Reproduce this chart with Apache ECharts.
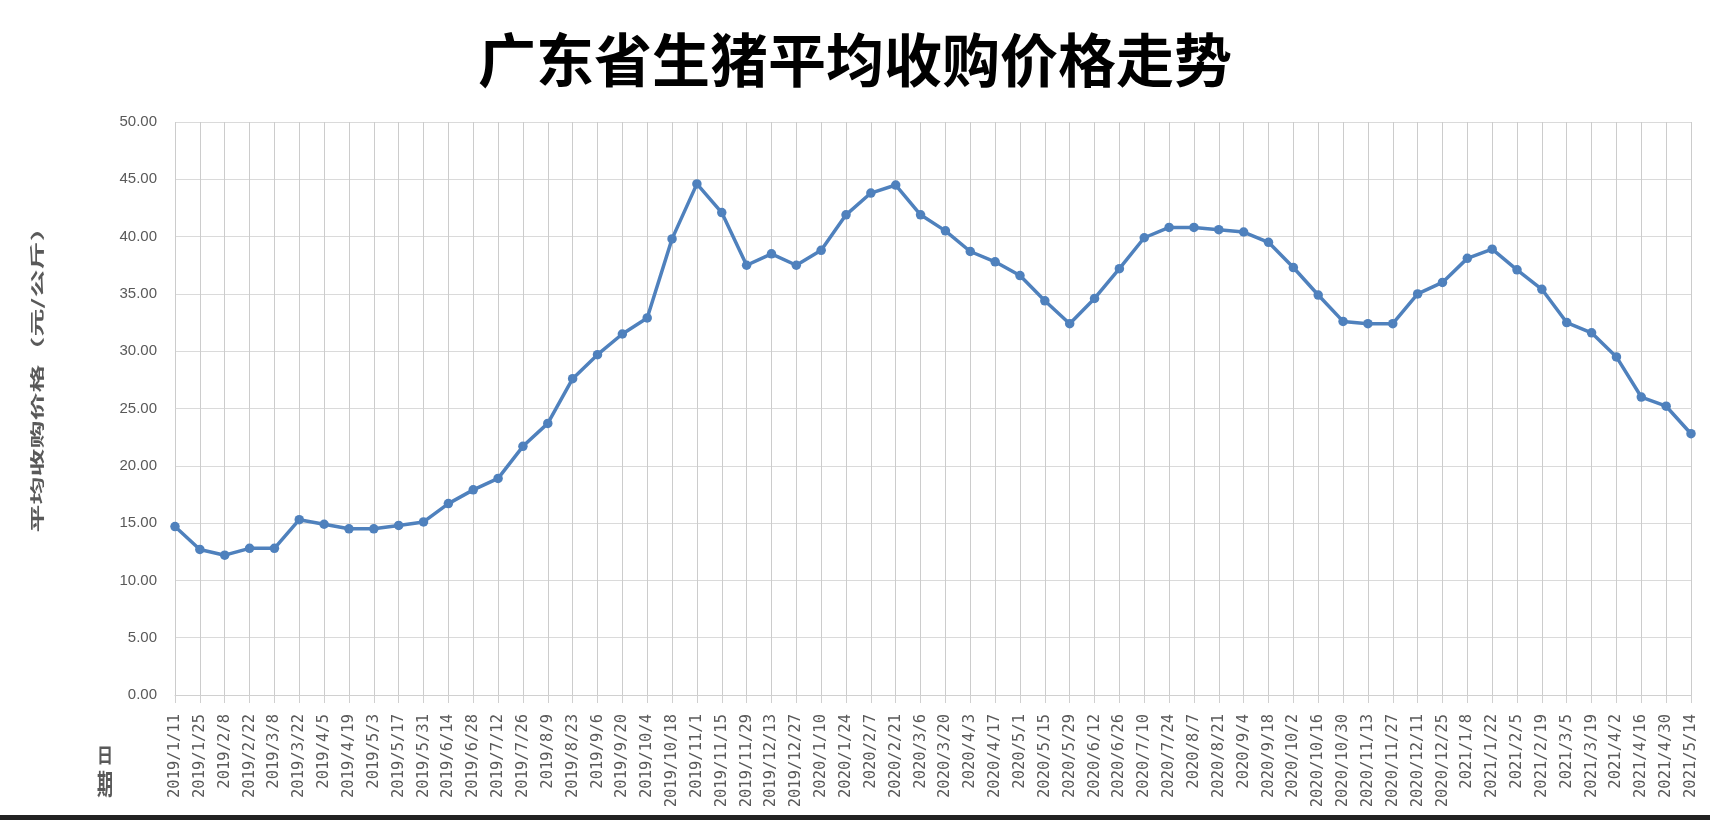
<!DOCTYPE html>
<html>
<head>
<meta charset="utf-8">
<script src="https://cdn.jsdelivr.net/npm/echarts@6/dist/echarts.min.js"></script>
<style>
html,body{margin:0;padding:0;background:#fff;}
#chart{width:1710px;height:820px;}
</style>
</head>
<body>
<div id="chart"></div>
<script>
const titleText = '广东省生猪平均收购价格走势';
const yAxisName = '平均收购价格（元/公斤）';
const xAxisName = ['日', '期'];

const dates = [
  '2019/1/11','2019/1/25','2019/2/8','2019/2/22','2019/3/8','2019/3/22','2019/4/5','2019/4/19',
  '2019/5/3','2019/5/17','2019/5/31','2019/6/14','2019/6/28','2019/7/12','2019/7/26','2019/8/9',
  '2019/8/23','2019/9/6','2019/9/20','2019/10/4','2019/10/18','2019/11/1','2019/11/15','2019/11/29',
  '2019/12/13','2019/12/27','2020/1/10','2020/1/24','2020/2/7','2020/2/21','2020/3/6','2020/3/20',
  '2020/4/3','2020/4/17','2020/5/1','2020/5/15','2020/5/29','2020/6/12','2020/6/26','2020/7/10',
  '2020/7/24','2020/8/7','2020/8/21','2020/9/4','2020/9/18','2020/10/2','2020/10/16','2020/10/30',
  '2020/11/13','2020/11/27','2020/12/11','2020/12/25','2021/1/8','2021/1/22','2021/2/5','2021/2/19',
  '2021/3/5','2021/3/19','2021/4/2','2021/4/16','2021/4/30','2021/5/14'
];

const prices = [
  14.7, 12.7, 12.2, 12.8, 12.8, 15.3, 14.9, 14.5,
  14.5, 14.8, 15.1, 16.7, 17.9, 18.9, 21.7, 23.7,
  27.6, 29.7, 31.5, 32.9, 39.8, 44.6, 42.1, 37.5,
  38.5, 37.5, 38.8, 41.9, 43.8, 44.5, 41.9, 40.5,
  38.7, 37.8, 36.6, 34.4, 32.4, 34.6, 37.2, 39.9,
  40.8, 40.8, 40.6, 40.4, 39.5, 37.3, 34.9, 32.6,
  32.4, 32.4, 35.0, 36.0, 38.1, 38.9, 37.1, 35.4,
  32.5, 31.6, 29.5, 26.0, 25.2, 22.8
];

const yMin = 0, yMax = 50, yStep = 5;

const chart = echarts.init(document.getElementById('chart'), null, {renderer: 'canvas'});
const labelGray = '#595959';

chart.setOption({
  backgroundColor: '#ffffff',
  animation: false,
  title: {
    text: titleText,
    left: 'center',
    top: 26,
    textStyle: {
      fontFamily: '"Noto Sans CJK SC"',
      fontSize: 58,
      fontWeight: 'bold',
      color: '#000000'
    }
  },
  grid: {left: 175, right: 19, top: 122, bottom: 125, containLabel: false},
  xAxis: {
    type: 'category',
    data: dates,
    boundaryGap: false,
    axisLine: {show: true, lineStyle: {color: '#d0d0d0', width: 1}},
    axisTick: {show: true, length: 8, interval: 0, lineStyle: {color: '#d0d0d0'}},
    splitLine: {show: true, interval: 0, lineStyle: {color: '#cccccc', width: 1}},
    axisLabel: {
      interval: 0,
      rotate: 90,
      margin: 19,
      color: labelGray,
      fontFamily: '"DejaVu Sans Mono"',
      fontSize: 15.5
    }
  },
  yAxis: {
    type: 'value',
    min: yMin,
    max: yMax,
    interval: yStep,
    axisLine: {show: false},
    axisTick: {show: false},
    splitLine: {show: true, lineStyle: {color: '#dadada', width: 1}},
    axisLabel: {
      margin: 18,
      color: labelGray,
      fontFamily: '"Liberation Sans"',
      fontSize: 15,
      formatter: v => v.toFixed(2)
    }
  },
  series: [{
    type: 'line',
    data: prices,
    symbol: 'circle',
    symbolSize: 9.5,
    showSymbol: true,
    lineStyle: {color: '#4F81BD', width: 3.5},
    itemStyle: {color: '#4F81BD'}
  }],
  graphic: [
    {
      type: 'text',
      x: 37, y: 373,
      rotation: Math.PI / 2,
      scaleX: 2.0,
      style: {
        text: yAxisName,
        font: 'bold 14px "Noto Sans CJK SC"',
        fill: labelGray,
        align: 'center',
        verticalAlign: 'middle'
      }
    },
    {
      type: 'text',
      x: 105, y: 755,
      scaleY: 1.3,
      style: {
        text: xAxisName[0],
        font: 'bold 16px "Noto Sans CJK SC"',
        fill: labelGray,
        align: 'center',
        verticalAlign: 'middle'
      }
    },
    {
      type: 'text',
      x: 105, y: 784,
      scaleY: 1.8,
      style: {
        text: xAxisName[1],
        font: 'bold 16px "Noto Sans CJK SC"',
        fill: labelGray,
        align: 'center',
        verticalAlign: 'middle'
      }
    },
    {
      type: 'rect',
      shape: {x: 0, y: 815, width: 1710, height: 5},
      style: {fill: '#222222'}
    }
  ]
});
</script>
</body>
</html>
